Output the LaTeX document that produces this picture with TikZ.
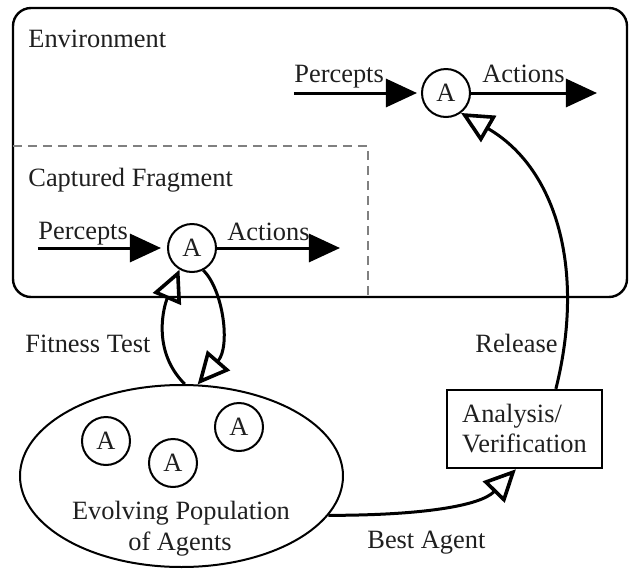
\documentclass[tikz,border=0pt]{standalone}
\usepackage{fontspec}
\setmainfont{Liberation Serif}
\usetikzlibrary{arrows.meta,shapes.geometric}
\begin{document}
\begin{tikzpicture}[x=0.5pt,y=-0.5pt,
  every node/.style={font=\fontsize{13.2}{15}\selectfont,text=black!88},
  agent/.style={draw,circle,line width=1pt,minimum size=24pt,inner sep=0pt},
  lbl/.style={anchor=base west,inner sep=0pt},
  flow/.style={line width=1.5pt,-{Triangle[length=15.5pt,width=14pt]}},
  hollow/.style={line width=1.5pt,-{Triangle[open,length=16pt,width=15pt,line width=1.8pt]}},
  frame/.style={line width=1.2pt,rounded corners=9pt},
  fragment/.style={line width=1pt,draw=gray,dash pattern=on 4.5pt off 3pt}
]
\useasboundingbox (0,0) rectangle (629,569);

% environment and captured fragment
\draw[frame] (13,8) rectangle (627,297);
\coordinate (fragA) at (13,146);
\coordinate (fragB) at (368,146);
\coordinate (fragC) at (368,297);
\draw[fragment] (fragA) -- (fragB) -- (fragC);

% agents in the environment and the fragment
\node[agent] (A1) at (446,93) {A};
\node[agent] (A2) at (192,248) {A};
\coordinate (pin1) at (294,93);
\coordinate (aout1) at (597,93);
\coordinate (pin2) at (38,248);
\coordinate (aout2) at (340,248);
\draw[flow,shorten >=2pt] (pin1) -- (A1);
\draw[flow] (A1) -- (aout1);
\draw[flow,shorten >=3pt] (pin2) -- (A2);
\draw[flow] (A2) -- (aout2);

% labels
\node[lbl] (env) at (28,47) {Environment};
\node[lbl] (perc1) at (294,82) {Percepts};
\node[lbl] (act1) at (482,82) {Actions};
\node[lbl] (frag) at (28,186) {Captured Fragment};
\node[lbl] (perc2) at (38,239) {Percepts};
\node[lbl] (act2) at (227,240) {Actions};
\node[lbl] (fit) at (25,352) {Fitness Test};
\node[lbl] (rel) at (475,352) {Release};
\node[lbl] (best) at (367,548) {Best Agent};

% population
\node[draw,ellipse,line width=1pt,minimum width=161.5pt,minimum height=91pt,inner sep=0pt] (pop) at (181.5,476) {};
\node[agent] (P1) at (106,441) {A};
\node[agent] (P2) at (173,463) {A};
\node[agent] (P3) at (239,427) {A};
\node[anchor=base,inner sep=0pt] (evo1) at (181,519) {Evolving Population};
\node[anchor=base,inner sep=0pt] (evo2) at (180,550) {of Agents};

% analysis box
\node[draw,line width=1.2pt,minimum width=77.5pt,minimum height=39pt,align=left,inner sep=0pt] (ver) at (524.5,429) {Analysis/\\Verification};

% connectors
\draw[hollow] (pop.88) .. controls +(-34,-34) and +(-15,35) .. (A2.-120);
\draw[hollow] (A2.-63) .. controls +(20,20) and +(33,-38) .. (pop.80);
\draw[hollow] (pop.-15.6) .. controls +(92,0) and +(-36,37) .. (ver.-102);
\draw[hollow] (ver.52) .. controls +(30,-120) and +(95,55) .. (A1.-53);
\end{tikzpicture}
\end{document}
